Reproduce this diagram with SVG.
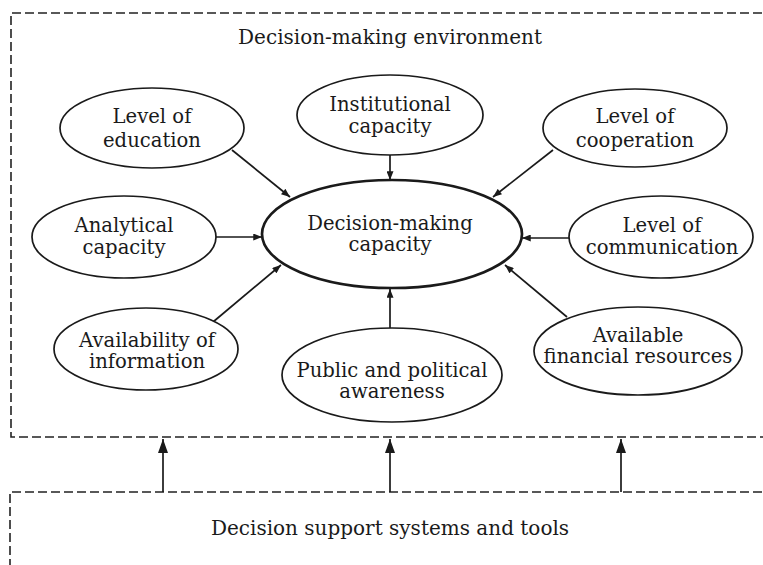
<svg xmlns="http://www.w3.org/2000/svg" width="763" height="565" viewBox="0 0 763 565">
<style>
.box{fill:none;stroke:#222;stroke-width:1.6;stroke-dasharray:9 4}
.node ellipse{fill:#fff;stroke:#1a1a1a;stroke-width:1.7}
.main ellipse{stroke-width:2.7}
text{font-family:"DejaVu Serif","Liberation Serif",serif;font-size:19.6px;fill:#1a1a1a;text-anchor:middle}
.lbl{font-size:20px}
.conn line{stroke:#1a1a1a;stroke-width:1.7}
</style>
<defs>
<marker id="ah" viewBox="0 0 10 8" refX="10" refY="4" markerWidth="10" markerHeight="7" markerUnits="userSpaceOnUse" orient="auto"><path d="M0,0 L10,4 L0,8 z" fill="#1a1a1a"/></marker>
<marker id="ahb" viewBox="0 0 14 10" refX="14" refY="5" markerWidth="14" markerHeight="10" markerUnits="userSpaceOnUse" orient="auto"><path d="M0,0 L14,5 L0,10 z" fill="#1a1a1a"/></marker>
</defs>
<g id="env">
<path class="box" d="M775,13 H11 V437 H775"/>
<text class="lbl" x="390" y="44">Decision-making environment</text>
</g>
<g id="dss">
<path class="box" d="M775,492 H10 V575"/>
<text class="lbl" x="390" y="535">Decision support systems and tools</text>
</g>
<g class="conn" id="connectors">
<line x1="232" y1="150" x2="290" y2="197" marker-end="url(#ah)"/>
<line x1="390" y1="155" x2="390" y2="180" marker-end="url(#ah)"/>
<line x1="553" y1="150" x2="493" y2="197" marker-end="url(#ah)"/>
<line x1="216" y1="237" x2="262" y2="237" marker-end="url(#ah)"/>
<line x1="570" y1="238" x2="522" y2="238" marker-end="url(#ah)"/>
<line x1="213" y1="322" x2="281" y2="265" marker-end="url(#ah)"/>
<line x1="390" y1="328" x2="390" y2="289" marker-end="url(#ah)"/>
<line x1="567" y1="317" x2="505" y2="265" marker-end="url(#ah)"/>
<line x1="163" y1="492" x2="163" y2="439" marker-end="url(#ahb)"/>
<line x1="390" y1="492" x2="390" y2="439" marker-end="url(#ahb)"/>
<line x1="621" y1="492" x2="621" y2="439" marker-end="url(#ahb)"/>
</g>
<g class="node" id="education"><ellipse cx="152" cy="128" rx="92" ry="40"/><text x="152" y="123">Level of</text><text x="152" y="147">education</text></g>
<g class="node" id="institutional"><ellipse cx="390" cy="115" rx="93" ry="40"/><text x="390" y="111">Institutional</text><text x="390" y="133">capacity</text></g>
<g class="node" id="cooperation"><ellipse cx="635" cy="128" rx="92" ry="39"/><text x="635" y="123">Level of</text><text x="635" y="147">cooperation</text></g>
<g class="node" id="analytical"><ellipse cx="124" cy="237" rx="92" ry="41"/><text x="124" y="232">Analytical</text><text x="124" y="254">capacity</text></g>
<g class="node main" id="decision"><ellipse cx="392" cy="234" rx="130" ry="54"/><text x="390" y="230">Decision-making</text><text x="390" y="251">capacity</text></g>
<g class="node" id="communication"><ellipse cx="661" cy="237" rx="92" ry="41"/><text x="662" y="232">Level of</text><text x="662" y="254">communication</text></g>
<g class="node" id="information"><ellipse cx="146" cy="349" rx="92" ry="41"/><text x="147" y="347">Availability of</text><text x="147" y="368">information</text></g>
<g class="node" id="awareness"><ellipse cx="392" cy="375" rx="110" ry="47"/><text x="392" y="377">Public and political</text><text x="392" y="398">awareness</text></g>
<g class="node" id="financial"><ellipse cx="638" cy="351" rx="104" ry="44"/><text x="638" y="342">Available</text><text x="638" y="363">financial resources</text></g>
</svg>
